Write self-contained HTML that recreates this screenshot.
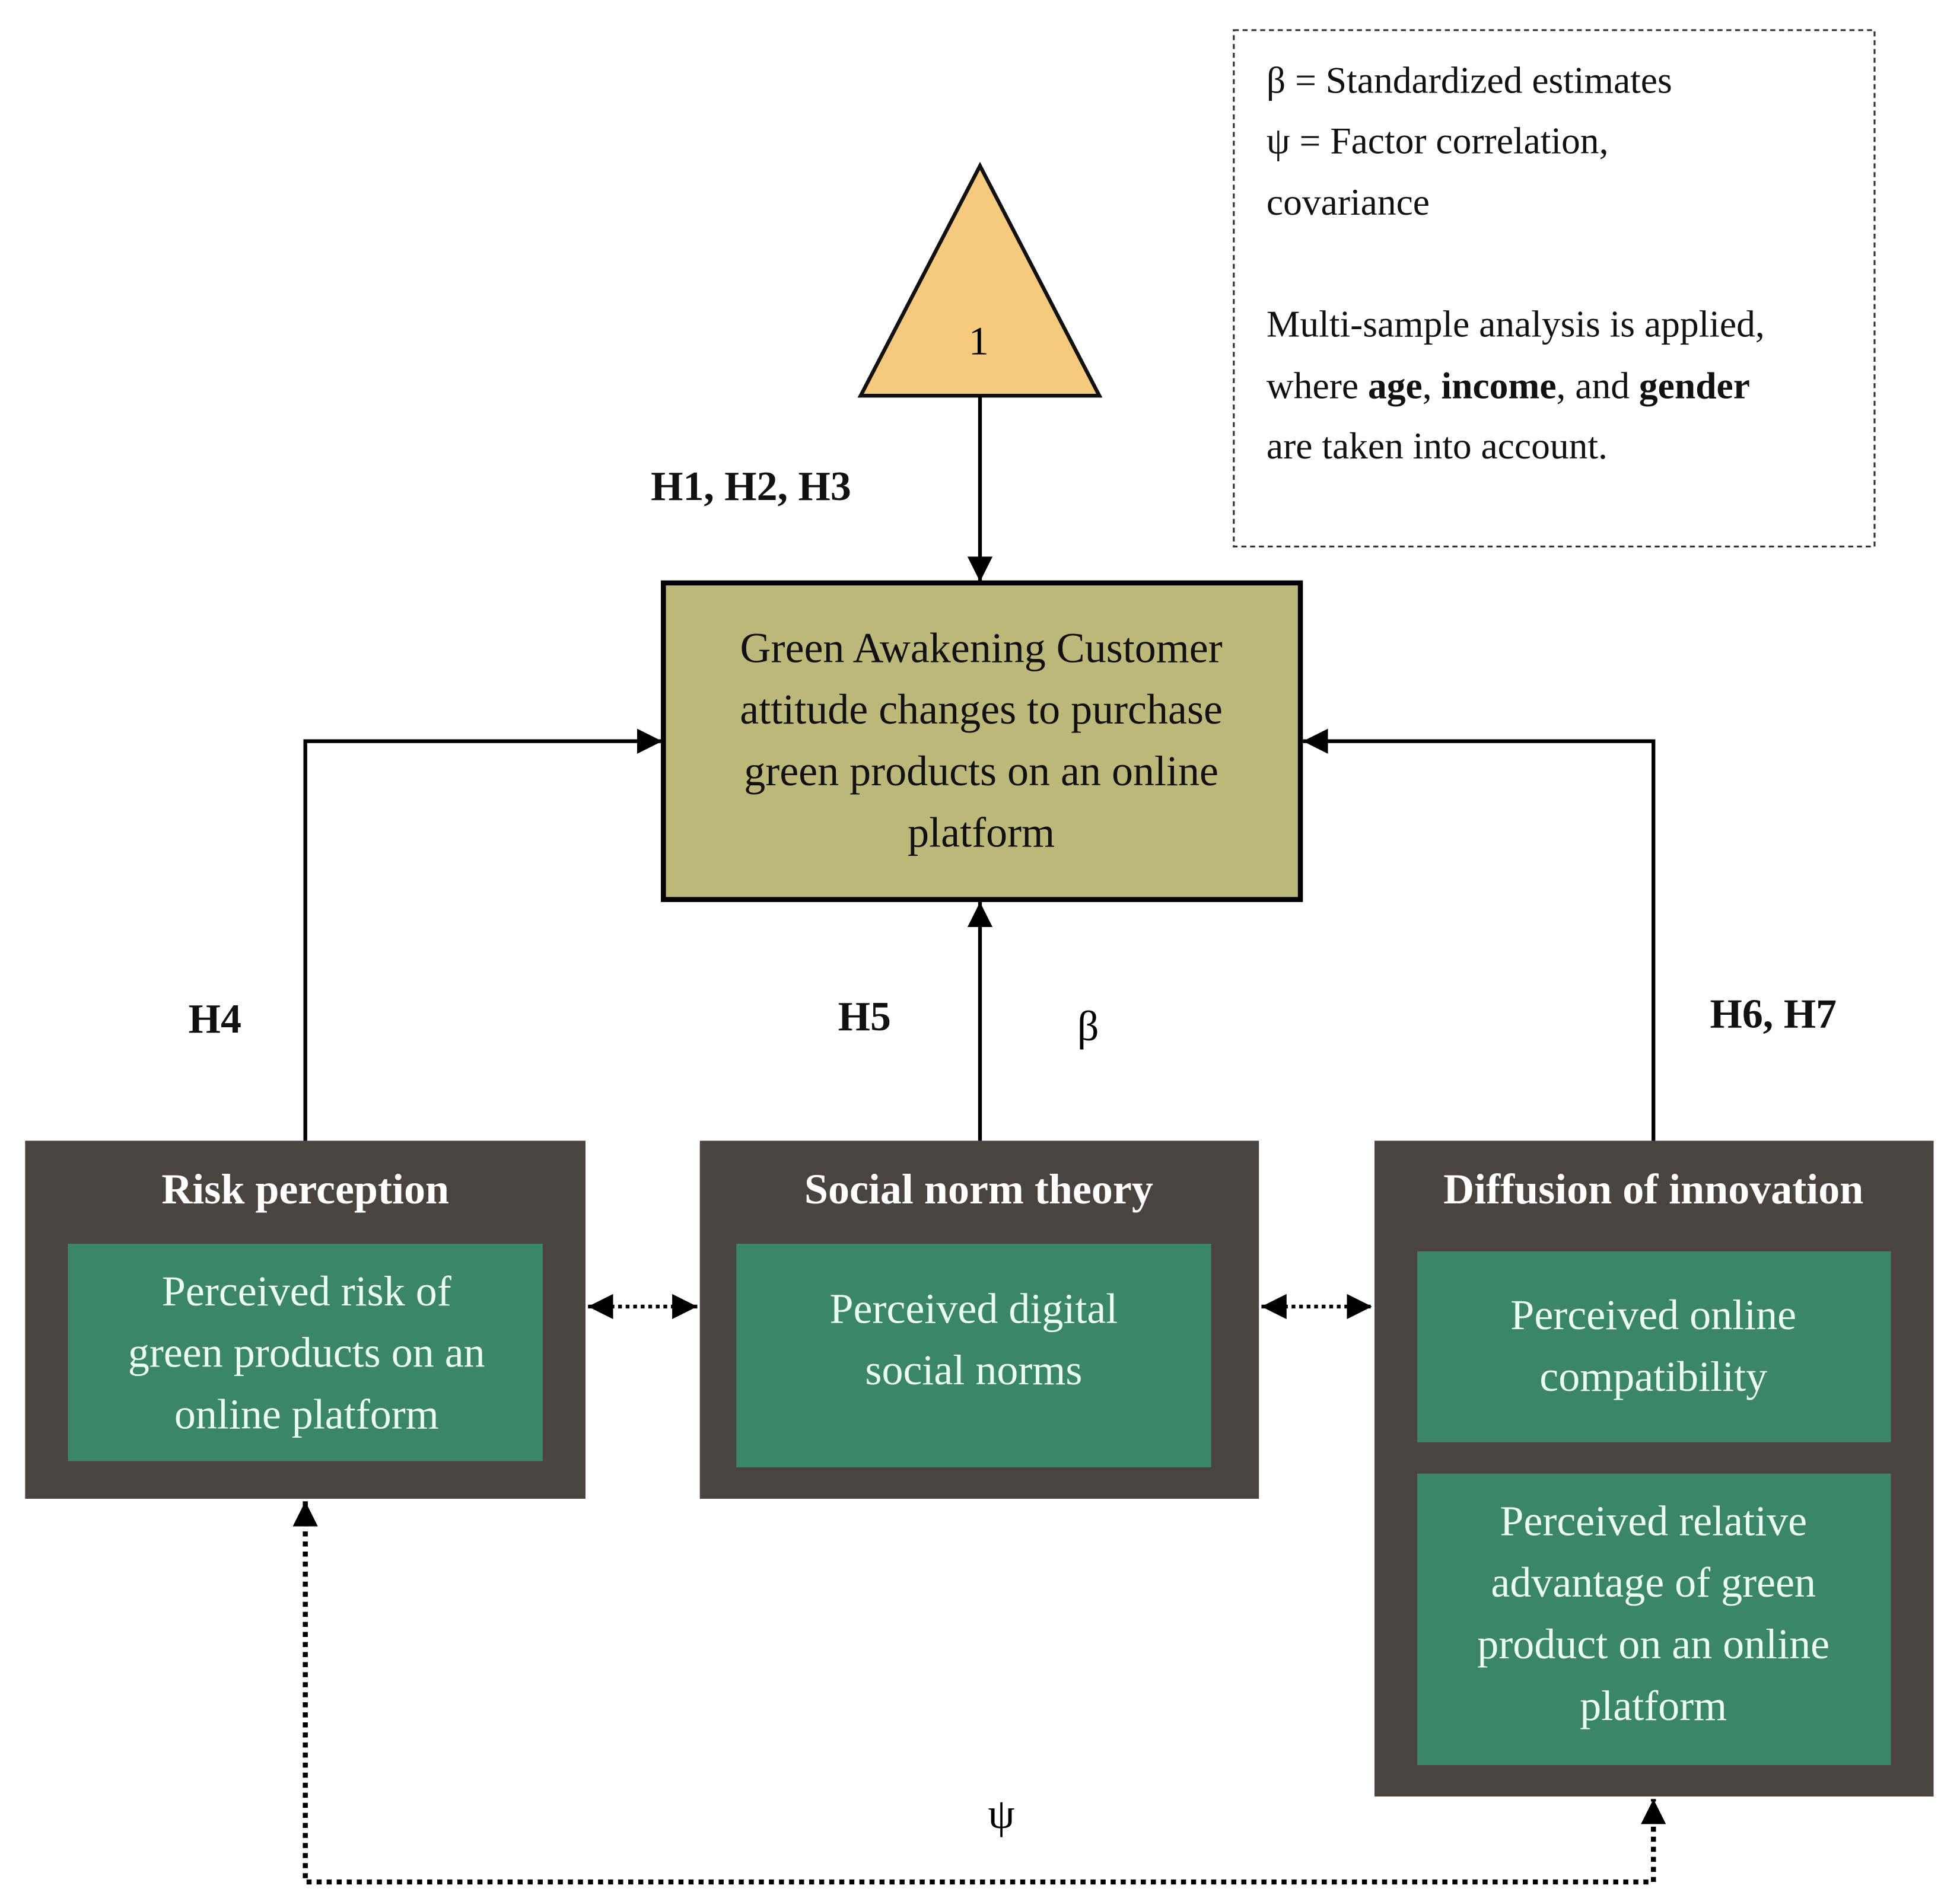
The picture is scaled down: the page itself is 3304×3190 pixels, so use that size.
<!DOCTYPE html>
<html><head><meta charset="utf-8"><style>
html,body{margin:0;padding:0;background:#fff}
svg{display:block}
text{font-family:"Liberation Serif",serif}
</style></head><body>
<svg width="3304" height="3190" viewBox="0 0 1560 1506" preserveAspectRatio="none" xmlns="http://www.w3.org/2000/svg">
<defs>
<marker id="a" viewBox="0 0 10 10" refX="10" refY="5" markerWidth="8" markerHeight="8" markerUnits="userSpaceOnUse" orient="auto-start-reverse"><path d="M0,0L10,5L0,10z" fill="#000"/></marker>
<marker id="b" viewBox="0 0 10 10" refX="10" refY="5" markerWidth="20" markerHeight="20" markerUnits="userSpaceOnUse" orient="auto-start-reverse"><path d="M0,0L10,5L0,10z" fill="#000"/></marker>
</defs>
<rect width="1560" height="1506" fill="#fff"/>
<!-- legend -->
<rect x="982" y="24" width="510" height="411" fill="none" stroke="#333" stroke-width="1.5" stroke-dasharray="4,3"/>
<g font-size="30" fill="#111">
<text x="1008" y="74">β = Standardized estimates</text>
<text x="1008" y="122">ψ = Factor correlation,</text>
<text x="1008" y="171">covariance</text>
<text x="1008" y="268">Multi-sample analysis is applied,</text>
<text x="1008" y="317">where <tspan font-weight="bold">age</tspan>, <tspan font-weight="bold">income</tspan>, and <tspan font-weight="bold">gender</tspan></text>
<text x="1008" y="365">are taken into account.</text>
</g>
<!-- triangle -->
<polygon points="780,132 685,315 875,315" fill="#f5ca7d" stroke="#111" stroke-width="3"/>
<text x="779" y="282" font-size="32" text-anchor="middle">1</text>
<line x1="780" y1="315" x2="780" y2="463" stroke="#000" stroke-width="3" marker-end="url(#b)"/>
<g font-size="33" font-weight="bold" fill="#111">
<text x="518" y="398">H1, H2, H3</text>
<text x="150" y="822">H4</text>
<text x="667" y="820">H5</text>
<text x="1361" y="818">H6, H7</text>
</g>
<text x="866" y="828" font-size="34" text-anchor="middle">β</text>
<!-- main box -->
<rect x="528" y="464" width="507" height="252" fill="#bcb87a" stroke="#000" stroke-width="4"/>
<g font-size="34" fill="#111" text-anchor="middle">
<text x="781" y="527">Green Awakening Customer</text>
<text x="781" y="576">attitude changes to purchase</text>
<text x="781" y="625">green products on an online</text>
<text x="781" y="674">platform</text>
</g>
<!-- connectors -->
<polyline points="243,908 243,590 527,590" fill="none" stroke="#000" stroke-width="3" marker-end="url(#b)"/>
<polyline points="1316,908 1316,590 1037,590" fill="none" stroke="#000" stroke-width="3" marker-end="url(#b)"/>
<line x1="780" y1="908" x2="780" y2="718" stroke="#000" stroke-width="3" marker-end="url(#b)"/>
<!-- boxes -->
<rect x="20" y="908" width="446" height="285" fill="#4a433e"/>
<rect x="54" y="990" width="378" height="173" fill="#3b8568"/>
<rect x="557" y="908" width="445" height="285" fill="#4a433e"/>
<rect x="586" y="990" width="378" height="178" fill="#3b8568"/>
<rect x="1094" y="908" width="445" height="522" fill="#4a433e"/>
<rect x="1128" y="996" width="377" height="152" fill="#3b8568"/>
<rect x="1128" y="1173" width="377" height="232" fill="#3b8568"/>
<g font-size="34" font-weight="bold" fill="#fff" text-anchor="middle">
<text x="243" y="958">Risk perception</text>
<text x="779" y="958">Social norm theory</text>
<text x="1316" y="958">Diffusion of innovation</text>
</g>
<g font-size="34" fill="#eafff2" text-anchor="middle">
<text x="244" y="1039">Perceived risk of</text>
<text x="244" y="1088">green products on an</text>
<text x="244" y="1137">online platform</text>
<text x="775" y="1053">Perceived digital</text>
<text x="775" y="1102">social norms</text>
<text x="1316" y="1058">Perceived online</text>
<text x="1316" y="1107">compatibility</text>
<text x="1316" y="1222">Perceived relative</text>
<text x="1316" y="1271">advantage of green</text>
<text x="1316" y="1320">product on an online</text>
<text x="1316" y="1369">platform</text>
</g>
<!-- dotted -->
<line x1="468" y1="1040" x2="555" y2="1040" stroke="#000" stroke-width="3" stroke-dasharray="3,3" marker-start="url(#b)" marker-end="url(#b)"/>
<line x1="1004" y1="1040" x2="1092" y2="1040" stroke="#000" stroke-width="3" stroke-dasharray="3,3" marker-start="url(#b)" marker-end="url(#b)"/>
<polyline points="243,1195 243,1498 1316,1498 1316,1432" fill="none" stroke="#000" stroke-width="4" stroke-dasharray="4,4" marker-start="url(#b)" marker-end="url(#b)"/>
<text x="797" y="1455" font-size="34" text-anchor="middle">ψ</text>
</svg>
</body></html>
